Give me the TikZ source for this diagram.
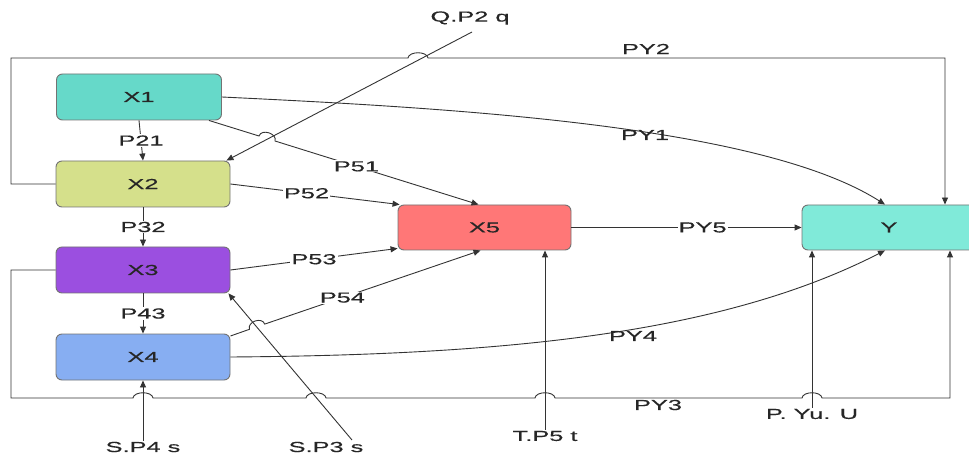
\documentclass[tikz,border=0pt]{standalone}
\usepackage{fontspec}
\newfontfamily\diagfont[FakeStretch=1.75,FakeBold=0.4]{Liberation Sans}
\usetikzlibrary{arrows.meta}
\definecolor{cxone}{HTML}{66D9C9}
\definecolor{cxtwo}{HTML}{D5E08B}
\definecolor{cxthree}{HTML}{9B4FE0}
\definecolor{cxfour}{HTML}{87AEF2}
\definecolor{cxfive}{HTML}{FF7777}
\definecolor{cy}{HTML}{80EAD9}

\begin{document}
\begin{tikzpicture}[x=1pt,y=-1pt,
	every node/.style={font=\diagfont\fontsize{14.5}{17}\selectfont, text=black!85},
	box/.style={draw=black!55, line width=0.9pt, rounded corners=6pt, minimum height=46pt, inner sep=0pt},
	arr/.style={draw=black!80, line width=0.9pt, -{Triangle[length=7pt,width=6pt]}},
	lbl/.style={fill=white, inner sep=1pt},
	txt/.style={inner sep=1pt}]
	\useasboundingbox (0,0) rectangle (969,454);
%	boxes
	\node[box, fill=cxone, minimum width=165pt] (X1) at (139,97) {X1};
	\node[box, fill=cxtwo, minimum width=174pt] (X2) at (143,184) {X2};
	\node[box, fill=cxthree, minimum width=174pt] (X3) at (143,270) {X3};
	\node[box, fill=cxfour, minimum width=174pt] (X4) at (143,357) {X4};
	\node[box, fill=cxfive, minimum width=173pt, minimum height=45pt] (X5) at (484.5,227.5) {X5};
	\node[box, fill=cy, minimum width=174pt, minimum height=45pt] (Y) at (889,227.5) {Y};
%	outside inputs
	\node[txt] (qp2) at (470,18) {Q.P2 q};
	\node[txt] (sp4) at (143,447) {S.P4 s};
	\node[txt] (sp3) at (326,447) {S.P3 s};
	\node[txt] (tp5) at (545,436) {T.P5 t};
	\node[txt] (pyu) at (812,414) {P. Yu. U};
	\coordinate (qp2end) at (472,32);
	\coordinate (sp3end) at (352,440);
	\draw[arr] (qp2end) -- ([xshift=-4pt]X2.north east);
	\draw[arr] (sp3end) -- ([xshift=-2pt]X3.south east);
	\draw[arr] (sp4.north) -- (X4.south);
	\draw[arr] (tp5.north) -- (tp5.north |- X5.south);
	\draw[arr] (pyu.north) -- (pyu.north |- Y.south);
%	chain
	\draw[arr] (X1.south) -- node[lbl] {P21} (X2.north);
	\draw[arr] (X2.south) -- node[lbl] {P32} (X3.north);
	\draw[arr] (X3.south) -- node[lbl] {P43} (X4.north);
%	into X5
	\draw[arr] ([xshift=-13pt]X1.south east) -- (259,136) .. controls (261.4,128.4) and (277.4,133.4) .. (275,141)
		-- node[lbl,pos=0.4] {P51} ([xshift=-6pt]X5.north);
	\draw[arr] (X2.east) -- node[lbl,pos=0.45] {P52} ([xshift=2pt]X5.north west);
	\draw[arr] (X3.east) -- node[lbl] {P53} ([yshift=2pt]X5.south west);
	\draw[arr] ([yshift=21pt]X4.east) -- (249.5,329.3) .. controls (246.9,321.7) and (262.1,316.5) .. (264.7,324.1)
		-- node[lbl,pos=0.36] {P54} ([xshift=-4pt]X5.south);
%	into Y
	\draw[arr] (X5.east) -- node[lbl,pos=0.57] {PY5} (Y.west);
	\draw[arr] (X1.east) .. controls (450,108) and (760,125) .. ([xshift=-4pt]Y.north);
	\node[txt] (py1) at (645,135) {PY1};
	\draw[arr] (X4.east) .. controls (500,355) and (720,335) .. ([xshift=-4pt]Y.south);
	\node[txt] (py4) at (633,336) {PY4};
	\draw[arr] (X2.west) -- (11,184) -- (11,58) -- (408,58) .. controls (409,51) and (427,51) .. (428,58)
		-- (945,58) -- ([xshift=56pt]Y.north);
	\node[txt] (py2) at (646,49) {PY2};
	\draw[arr] (X3.west) -- (11,270) -- (11,398)
		\foreach \jx in {143,316,545,812} { -- (\jx-10,398) .. controls (\jx-9,391) and (\jx+9,391) .. (\jx+10,398) }
		-- (950,398) -- ([xshift=61pt]Y.south);
	\node[txt] (py3) at (658,405) {PY3};
\end{tikzpicture}
\end{document}
